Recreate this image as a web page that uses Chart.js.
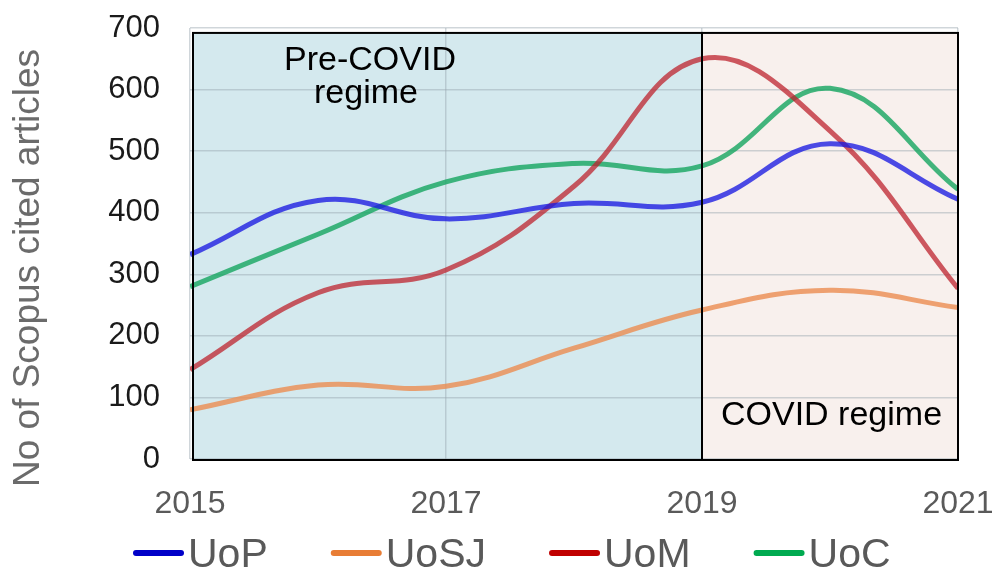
<!DOCTYPE html>
<html>
<head>
<meta charset="utf-8">
<script src="https://cdn.jsdelivr.net/npm/chart.js@4/dist/chart.umd.min.js"></script>
<style>
    html, body { margin: 0; padding: 0; background: #fff; }
    #wrap { width: 995px; height: 569px; }
</style>
</head>
<body>
<div id="wrap"><canvas id="citedChart"></canvas></div>
<script>

// --------------------------------------------------------------------------
//
//                            chart data
//
// --------------------------------------------------------------------------

const years = [2015, 2016, 2017, 2018, 2019, 2020, 2021];

const uopValues  = [332, 420, 390, 415, 417, 512, 422];
const uosjValues = [ 80, 120, 118, 180, 242, 274, 246];
const uomValues  = [145, 270, 307, 443, 650, 533, 277];
const uocValues  = [280, 365, 450, 480, 476, 602, 438];

const seriesNames = ['UoP', 'UoSJ', 'UoM', 'UoC'];

const yTicks = [0, 100, 200, 300, 400, 500, 600, 700];
const xTicks = [2015, 2017, 2019, 2021];

// regimes shown as boxes behind the lines
const regimes = [
    { label: ['Pre-COVID', 'regime'], from: 2015, to: 2019 },
    { label: ['COVID regime'],        from: 2019, to: 2021 }
];

// --------------------------------------------------------------------------

const lineColors = [
    'rgba(25, 25, 225, 0.78)',
    'rgba(235, 140, 80, 0.8)',
    'rgba(190, 35, 45, 0.75)',
    'rgba(20, 165, 95, 0.8)'
];
const legendColors = ['#0000c8', '#e87d35', '#c00000', '#00aa50'];

const FONT = '"Liberation Sans", Arial, Helvetica, sans-serif';

function toPoints(values) {
    return values.map((v, i) => ({ x: years[i], y: v }));
}

// the scales should not push the plot in for their edge labels
function noEdgePadding(scale) {
    scale.paddingLeft = 0;
    scale.paddingRight = 0;
    scale.paddingTop = 0;
    scale.paddingBottom = 0;
}

// boxes, black borders and texts for the two regimes
const regimePlugin = {
    id: 'regimes',
    beforeDraw(chart) {
        const { ctx, scales: { x, y } } = chart;
        const fills = ['#d4e9ee', '#f8f0ed'];
        const top = y.getPixelForValue(692);
        const bottom = y.getPixelForValue(0) + 1;
        ctx.save();
        regimes.forEach((r, i) => {
            const left = x.getPixelForValue(r.from) + (i === 0 ? 3 : 0);
            const right = x.getPixelForValue(r.to);
            ctx.fillStyle = fills[i];
            ctx.fillRect(left, top, right - left, bottom - top);
        });
        ctx.restore();
    },
    afterDatasetsDraw(chart) {
        const { ctx, scales: { x, y } } = chart;
        const top = y.getPixelForValue(692);
        const bottom = y.getPixelForValue(0) + 1;
        ctx.save();
        ctx.strokeStyle = '#000';
        ctx.lineWidth = 2;
        regimes.forEach((r, i) => {
            const left = x.getPixelForValue(r.from) + (i === 0 ? 3 : 0);
            const right = x.getPixelForValue(r.to);
            ctx.strokeRect(left, top, right - left, bottom - top);
        });

        ctx.fillStyle = '#000';
        ctx.font = '34px ' + FONT;
        ctx.textBaseline = 'alphabetic';
        ctx.textAlign = 'center';
        ctx.fillText(regimes[0].label[0], 370, 70);
        ctx.fillText(regimes[0].label[1], 366, 103);
        ctx.textAlign = 'left';
        ctx.fillText(regimes[1].label[0], 721, 425);
        ctx.restore();
    }
};

// y title and legend drawn where the figure has them
const sidePlugin = {
    id: 'sides',
    afterDraw(chart) {
        const { ctx } = chart;
        ctx.save();

        ctx.fillStyle = '#6b6b6b';
        ctx.font = '37px ' + FONT;
        ctx.textAlign = 'center';
        ctx.textBaseline = 'middle';
        ctx.translate(29, 268);
        ctx.rotate(-Math.PI / 2);
        ctx.fillText('No of Scopus cited articles', 0, 0);
        ctx.setTransform(1, 0, 0, 1, 0, 0);

        ctx.font = '41px ' + FONT;
        ctx.textAlign = 'left';
        ctx.textBaseline = 'alphabetic';
        let lx = 133;
        chart.data.datasets.forEach((ds, i) => {
            ctx.strokeStyle = legendColors[i];
            ctx.lineWidth = 6;
            ctx.lineCap = 'round';
            ctx.beginPath();
            ctx.moveTo(lx + 3, 553);
            ctx.lineTo(lx + 48, 553);
            ctx.stroke();
            ctx.fillStyle = '#595959';
            ctx.fillText(ds.label, lx + 55, 567);
            lx += 55 + ctx.measureText(ds.label).width + 63;
        });
        ctx.restore();
    }
};

const allValues = [uopValues, uosjValues, uomValues, uocValues];

const chartData = {
    datasets: allValues.map((vals, i) => ({
        label: seriesNames[i],
        data: toPoints(vals),
        borderColor: lineColors[i],
        backgroundColor: lineColors[i],
        borderWidth: 5,
        pointRadius: 0,
        tension: 0.4,
        fill: false
    }))
};

const options = {
    responsive: true,
    maintainAspectRatio: false,
    animation: false,
    layout: {
        padding: { left: 0, right: 37, top: 28, bottom: 0 }
    },
    plugins: {
        legend: { display: false },
        tooltip: { enabled: false }
    },
    scales: {
        x: {
            type: 'linear',
            min: 2015,
            max: 2021,
            afterBuildTicks: (scale) => {
                scale.ticks = xTicks.map(v => ({ value: v }));
            },
            afterFit: (scale) => {
                scale.height = 110;
                noEdgePadding(scale);
            },
            border: { display: false },
            grid: {
                color: 'rgba(150, 165, 172, 0.45)',
                lineWidth: 1.5,
                drawTicks: false
            },
            ticks: {
                padding: 26,
                color: '#5a5a5a',
                font: { family: FONT, size: 32 },
                callback: (v) => String(v)
            }
        },
        y: {
            min: 0,
            max: 700,
            afterBuildTicks: (scale) => {
                scale.ticks = yTicks.map(v => ({ value: v }));
            },
            afterFit: (scale) => {
                scale.width = 190;
                noEdgePadding(scale);
            },
            border: { display: false },
            grid: {
                color: 'rgba(150, 165, 172, 0.45)',
                lineWidth: 1.5,
                drawTicks: false
            },
            ticks: {
                padding: 30,
                color: '#1a1a1a',
                font: { family: FONT, size: 31 }
            }
        }
    }
};

window.citedChart = new Chart(document.getElementById('citedChart').getContext('2d'), {
    type: 'line',
    data: chartData,
    options: options,
    plugins: [regimePlugin, sidePlugin]
});

</script>
</body>
</html>
